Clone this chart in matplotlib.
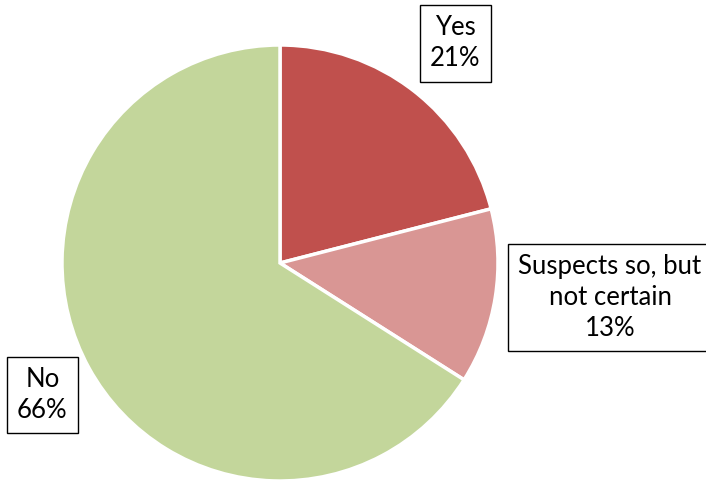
import matplotlib.pyplot as plt

labels = ["Yes", "Suspects so, but\nnot certain", "No"]
values = [21, 13, 66]
colors = ["#C0504D", "#D99694", "#C3D69B"]
# label centres in axes data units (radius = 1)
label_pos = [(0.803, 1.007), (1.514, -0.158), (-1.09, -0.606)]

plt.rcParams['font.family'] = ['Lato', 'DejaVu Sans']

fig = plt.figure(figsize=(7.06, 4.8), dpi=100)
cx, cy, r = 280, 480 - 263, 218
ax = fig.add_axes([(cx - r) / 706, (cy - r) / 480, 2 * r / 706, 2 * r / 480])

wedges, _ = ax.pie(values, colors=colors, startangle=90, counterclock=False,
                   radius=1, wedgeprops=dict(edgecolor="white", linewidth=2.5))
ax.set_xlim(-1, 1)
ax.set_ylim(-1, 1)
ax.set_aspect("equal")

for lab, val, (x, y) in zip(labels, values, label_pos):
    ax.text(x, y, f"{lab}\n{val}%", ha="center", va="center", fontsize=18.5,
            linespacing=1.3, clip_on=False,
            bbox=dict(boxstyle="square,pad=0.4", facecolor="white",
                      edgecolor="black", linewidth=1))

fig.savefig("out.png", dpi=100)
